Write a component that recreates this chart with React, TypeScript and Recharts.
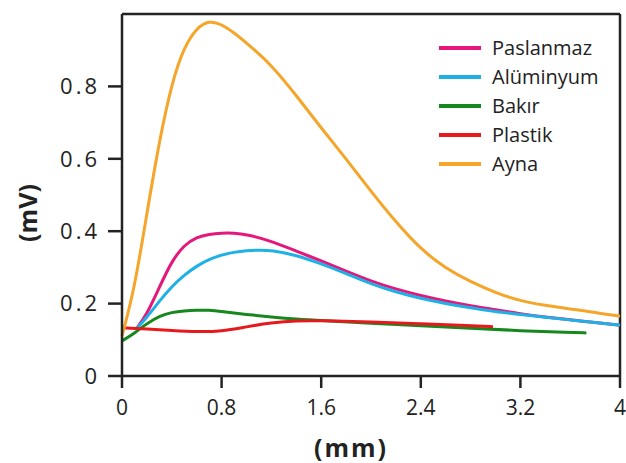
import React from "react";
import { LineChart, Line, XAxis, YAxis, ReferenceLine, Legend, Label } from "recharts";

const xTicks = [0, 0.8, 1.6, 2.4, 3.2, 4];
const yTicks = [0, 0.2, 0.4, 0.6, 0.8];

const paslanmaz = [
  [0.11, 0.128], [0.2, 0.17], [0.3, 0.245], [0.4, 0.318], [0.5, 0.362], [0.6, 0.384], [0.7, 0.392],
  [0.8, 0.395], [0.9, 0.395], [1.0, 0.391], [1.2, 0.373], [1.4, 0.345], [1.6, 0.318], [1.8, 0.29],
  [2.0, 0.262], [2.2, 0.24], [2.4, 0.222], [2.6, 0.207], [2.8, 0.194], [3.0, 0.183], [3.2, 0.172],
  [3.4, 0.163], [3.6, 0.155], [3.8, 0.148], [4.0, 0.14],
];
const aluminyum = [
  [0.11, 0.128], [0.2, 0.162], [0.3, 0.207], [0.4, 0.247], [0.5, 0.279], [0.6, 0.304], [0.7, 0.322],
  [0.8, 0.335], [0.9, 0.342], [1.0, 0.346], [1.1, 0.348], [1.2, 0.347], [1.4, 0.334], [1.6, 0.31],
  [1.8, 0.283], [2.0, 0.254], [2.2, 0.232], [2.4, 0.214], [2.6, 0.2], [2.8, 0.188], [3.0, 0.178],
  [3.2, 0.17], [3.4, 0.162], [3.6, 0.155], [3.8, 0.148], [4.0, 0.14],
];
const bakir = [
  [0, 0.097], [0.1, 0.118], [0.2, 0.145], [0.3, 0.166], [0.4, 0.176], [0.5, 0.18], [0.6, 0.182],
  [0.7, 0.182], [0.8, 0.178], [1.0, 0.17], [1.2, 0.163], [1.4, 0.157], [1.6, 0.153], [2.0, 0.146],
  [2.4, 0.139], [2.8, 0.132], [3.2, 0.125], [3.6, 0.12], [3.73, 0.119],
];
const plastik = [
  [0, 0.133], [0.2, 0.13], [0.4, 0.126], [0.6, 0.122], [0.8, 0.123], [1.0, 0.136], [1.2, 0.147],
  [1.4, 0.153], [1.6, 0.153], [2.0, 0.149], [2.4, 0.144], [2.8, 0.139], [2.98, 0.136],
];
const ayna = [
  [0, 0.11], [0.1, 0.24], [0.2, 0.45], [0.3, 0.65], [0.4, 0.81], [0.5, 0.91], [0.6, 0.962], [0.7, 0.982],
  [0.8, 0.972], [0.9, 0.948], [1.0, 0.92], [1.2, 0.86], [1.4, 0.775], [1.6, 0.685], [1.8, 0.6],
  [2.0, 0.51], [2.2, 0.425], [2.4, 0.35], [2.6, 0.297], [2.8, 0.26], [3.0, 0.23], [3.2, 0.207],
  [3.4, 0.195], [3.6, 0.185], [3.8, 0.176], [4.0, 0.165],
];

const seriesNames = ["Paslanmaz", "Alüminyum", "Bakır", "Plastik", "Ayna"];
const seriesColors = ["#e5177b", "#1db1e6", "#16881e", "#e8191d", "#f5a52a"];
const seriesData = [paslanmaz, aluminyum, bakir, plastik, ayna];

const toRows = (arr: number[][]) => arr.map(([x, y]) => ({ x, y }));

const AXIS = "#232323";
const FONT = "'Open Sans', sans-serif";

const renderLegend = () => (
  <div style={{ fontFamily: FONT, width: 180, whiteSpace: "nowrap" }}>
    {seriesNames.map((n, i) => (
      <div key={n} style={{ display: "flex", alignItems: "center", height: 29 }}>
        <div style={{ width: 42, height: 4, background: seriesColors[i], marginRight: 11 }} />
        <span style={{ fontSize: 20, color: "#222", lineHeight: "29px" }}>{n}</span>
      </div>
    ))}
  </div>
);

export default function App() {
  return (
    <div style={{ position: "absolute", left: 0, top: 0, background: "#fff" }}>
      <LineChart width={626} height={463} margin={{ top: 14, right: 6, left: 0, bottom: 0 }}>
        <XAxis
          type="number"
          dataKey="x"
          domain={[0, 4]}
          ticks={xTicks}
          interval={0}
          height={87}
          stroke={AXIS}
          strokeWidth={2.5}
          tickSize={12}
          tickMargin={12}
          tick={{ fill: "#222", fontSize: 21, fontFamily: FONT }}
        >
          <Label
            content={(p: any) => {
              const vb = p.viewBox || {};
              return (
                <text
                  x={vb.x + vb.width / 2 - 20}
                  y={vb.y + 71}
                  textAnchor="middle"
                  dominantBaseline="central"
                  fontFamily={FONT}
                  fontWeight={700}
                  fontSize={25}
                  letterSpacing={2}
                  fill="#222"
                >
                  (mm)
                </text>
              );
            }}
          />
        </XAxis>
        <YAxis
          type="number"
          domain={[0, 1]}
          ticks={yTicks}
          interval={0}
          width={122}
          stroke={AXIS}
          strokeWidth={2.5}
          tickSize={14}
          tickMargin={8}
          tick={{ fill: "#222", fontSize: 22, fontFamily: FONT, letterSpacing: 3 }}
        >
          <Label
            content={(p: any) => {
              const vb = p.viewBox || {};
              const cx = 27;
              const cy = vb.y + vb.height / 2 + 18;
              return (
                <text
                  x={cx}
                  y={cy}
                  textAnchor="middle"
                  dominantBaseline="central"
                  transform={`rotate(-90, ${cx}, ${cy})`}
                  fontFamily={FONT}
                  fontWeight={700}
                  fontSize={25}
                  fill="#222"
                >
                  (mV)
                </text>
              );
            }}
          />
        </YAxis>
        <ReferenceLine y={1} stroke={AXIS} strokeWidth={2.5} />
        <ReferenceLine x={4} stroke={AXIS} strokeWidth={2.5} />
        {seriesData.map((d, i) => (
          <Line
            key={seriesNames[i]}
            data={toRows(d)}
            dataKey="y"
            name={seriesNames[i]}
            type="basis"
            stroke={seriesColors[i]}
            strokeWidth={3}
            dot={false}
            activeDot={false}
            isAnimationActive={false}
          />
        ))}
        <Legend
          content={renderLegend}
          wrapperStyle={{ top: 33, left: 439, right: "auto", bottom: "auto", width: 0, height: 0, overflow: "visible" }}
        />
      </LineChart>
    </div>
  );
}
